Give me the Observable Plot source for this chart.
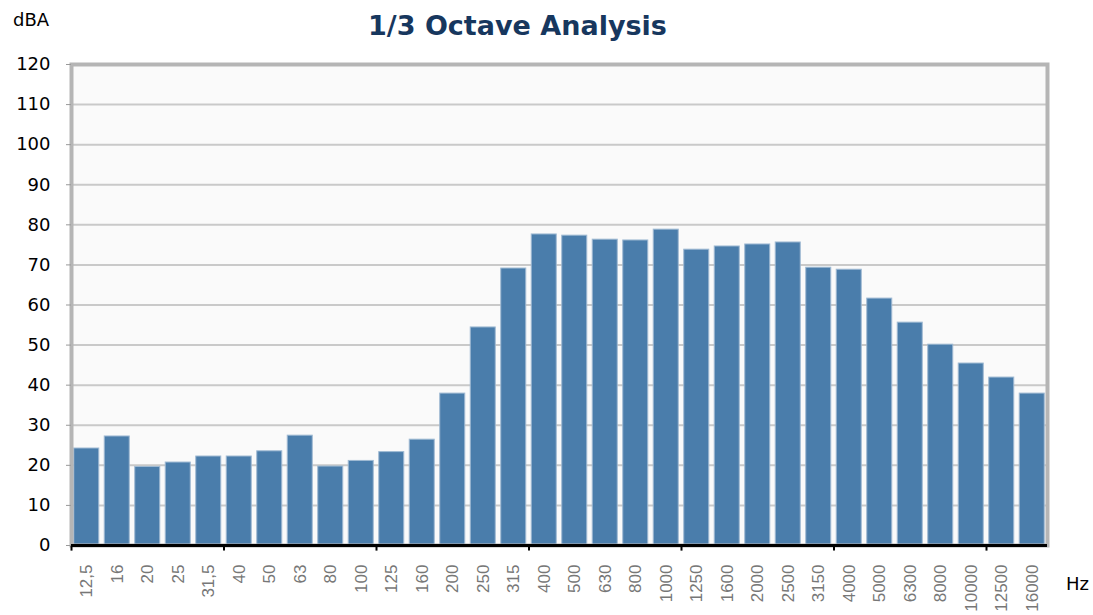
<!DOCTYPE html>
<html>
<head>
<meta charset="utf-8">
<script src="https://cdn.jsdelivr.net/npm/d3@7"></script>
<script src="https://cdn.jsdelivr.net/npm/@observablehq/plot@0.6"></script>
<style>
  html, body { margin: 0; padding: 0; background: #ffffff; }
  #wrap { position: relative; width: 1093px; height: 615px; overflow: hidden; }
  #title { position: absolute; left: 0; width: 1035px; top: 10px; text-align: center;
           font-family: "DejaVu Sans", Verdana, sans-serif; font-weight: bold; font-size: 27px; color: #17375e; }
  #ylab { position: absolute; left: 13px; top: 9px; font-family: "DejaVu Sans", sans-serif; font-size: 18px; color: #000; }
  #xlab { position: absolute; left: 1066px; top: 573px; font-family: "DejaVu Sans", sans-serif; font-size: 18px; color: #000; }
  svg { position: absolute; left: 0; top: 0; }
</style>
</head>
<body>
<div id="wrap">
  <div id="title">1/3 Octave Analysis</div>
  <div id="ylab">dBA</div>
  <div id="xlab">Hz</div>
</div>
<script>
const bands = ["12,5","16","20","25","31,5","40","50","63","80","100","125","160","200","250","315","400","500","630","800","1000","1250","1600","2000","2500","3150","4000","5000","6300","8000","10000","12500","16000"];
const levels = [24.2,27.2,19.6,20.7,22.2,22.2,23.5,27.4,19.7,21.1,23.3,26.4,37.9,54.4,69.1,77.6,77.3,76.3,76.1,78.8,73.8,74.6,75.1,75.6,69.3,68.8,61.6,55.6,50.1,45.4,41.9,37.9];
const yTicks = [0,10,20,30,40,50,60,70,80,90,100,110,120];
const majorBands = ["12,5","40","125","400","1250","4000","12500"];

const data = bands.map((b, i) => ({band: b, level: levels[i]}));

const chart = Plot.plot({
  width: 1093,
  height: 615,
  marginTop: 64,
  marginBottom: 70,
  marginLeft: 71,
  marginRight: 46,
  style: {fontFamily: "DejaVu Sans, sans-serif", fontSize: "18px", background: "transparent"},
  x: {type: "band", domain: bands, paddingInner: 0.18, paddingOuter: 0.09, round: false},
  y: {domain: [0, 120]},
  marks: [
    Plot.frame({fill: "#fafafa", stroke: null}),
    Plot.gridY(yTicks, {stroke: "#c9c9c9", strokeOpacity: 1, strokeWidth: 2}),
    Plot.barY(data, {x: "band", y: "level", fill: "#4a7dab", stroke: "#9fbad3", strokeWidth: 1}),
    Plot.frame({stroke: "#b5b5b5", strokeWidth: 4}),
    Plot.ruleY([0], {stroke: "#000", strokeWidth: 3}),
    Plot.ruleX(majorBands, {x: d => d, y1: 0, y2: -1.4, dx: -15.25, stroke: "#000", strokeWidth: 2}),
    Plot.axisY(yTicks, {tickSize: 5, tickPadding: 16, stroke: "#999", fill: "#000", fontSize: 18, label: null}),
    Plot.axisX({tickSize: 0, tickRotate: -90, tickPadding: 19, fill: "#777", fontSize: 17,
                fontFamily: "Liberation Sans, Arial, sans-serif", label: null})
  ]
});
document.getElementById("wrap").appendChild(chart);
</script>
</body>
</html>
